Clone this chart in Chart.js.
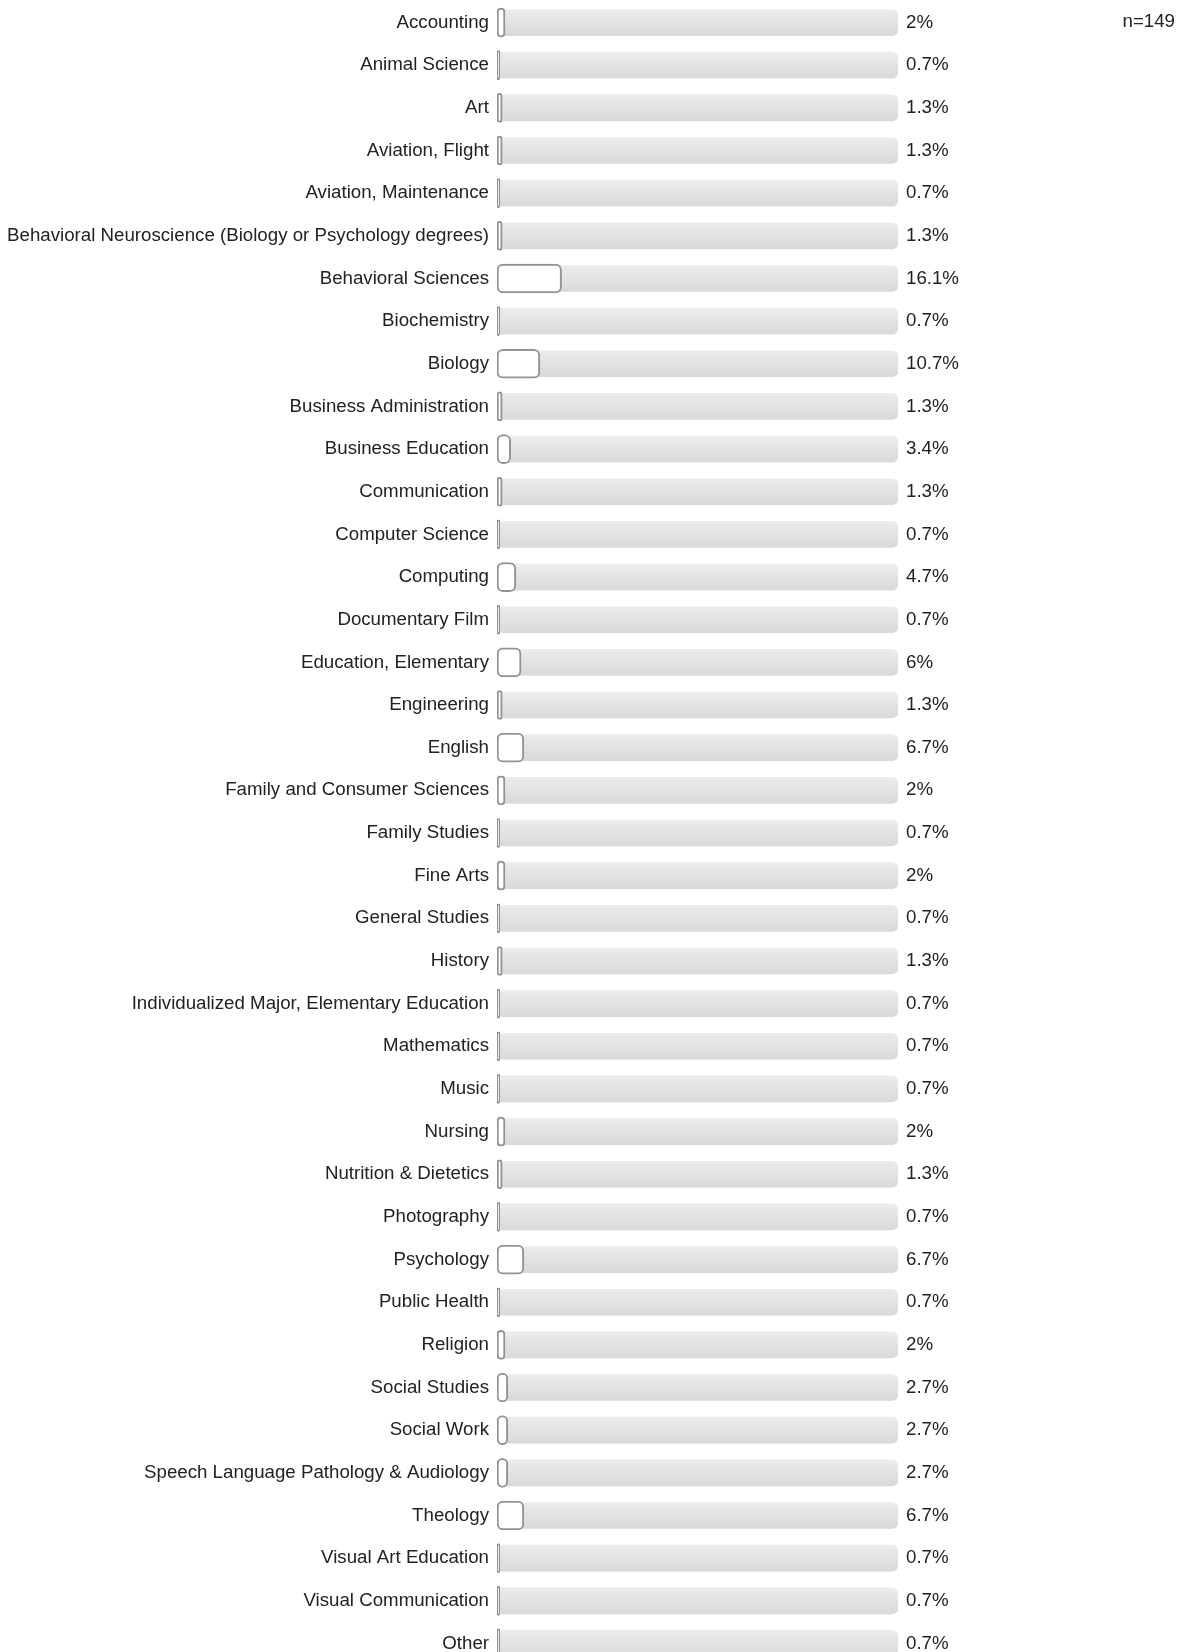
<!DOCTYPE html>
<html>
<head>
<meta charset="utf-8">
<script src="https://cdn.jsdelivr.net/npm/chart.js@4.4.1/dist/chart.umd.min.js"></script>
<style>
  html, body { margin: 0; padding: 0; background: #fff; overflow: hidden; }
  #wrap { position: relative; width: 1179px; height: 1702px; margin-top: -18px; }
  #count { position: absolute; right: 4px; top: 10px; font: 18.7px "Liberation Sans", Arial, sans-serif; color: #222; }
</style>
</head>
<body>
<div id="wrap">
  <canvas id="majorChart"></canvas>
</div>
<div id="count">n=149</div>
<script>
// answers per major, in percent of n=149
const majors = [
  'Accounting', 'Animal Science', 'Art', 'Aviation, Flight', 'Aviation, Maintenance',
  'Behavioral Neuroscience (Biology or Psychology degrees)', 'Behavioral Sciences',
  'Biochemistry', 'Biology', 'Business Administration', 'Business Education',
  'Communication', 'Computer Science', 'Computing', 'Documentary Film',
  'Education, Elementary', 'Engineering', 'English', 'Family and Consumer Sciences',
  'Family Studies', 'Fine Arts', 'General Studies', 'History',
  'Individualized Major, Elementary Education', 'Mathematics', 'Music', 'Nursing',
  'Nutrition & Dietetics', 'Photography', 'Psychology', 'Public Health', 'Religion',
  'Social Studies', 'Social Work', 'Speech Language Pathology & Audiology', 'Theology',
  'Visual Art Education', 'Visual Communication', 'Other'
]
const percents = [
  2, 0.7, 1.3, 1.3, 0.7,
  1.3, 16.1,
  0.7, 10.7, 1.3, 3.4,
  1.3, 0.7, 4.7, 0.7,
  6, 1.3, 6.7, 2,
  0.7, 2, 0.7, 1.3,
  0.7, 0.7, 0.7, 2,
  1.3, 0.7, 6.7, 0.7, 2,
  2.7, 2.7, 2.7, 6.7,
  0.7, 0.7, 0.7
]
const fullScale = majors.map(() => 100)
const pctLabels = percents.map(v => v + '%')

const labelFont = { family: '"Liberation Sans", Arial, sans-serif', size: 18.7 }

function trackColor(ctx) {
    const chart = ctx.chart
    const yScale = chart.scales.y
    if (!yScale || ctx.dataIndex === undefined) return '#e2e2e2'
    const y = yScale.getPixelForValue(ctx.dataIndex)
    if (!isFinite(y)) return '#e2e2e2'
    const g = chart.ctx.createLinearGradient(0, y - 13, 0, y + 13)
    g.addColorStop(0, '#ececec')
    g.addColorStop(1, '#d9d9d9')
    return g
}

new Chart(document.getElementById('majorChart'), {
    type: 'bar',
    data: {
        labels: majors,
        datasets: [{
            label: 'Percent',
            data: percents,
            backgroundColor: '#ffffff',
            borderColor: '#939393',
            borderWidth: 2,
            borderRadius: 6,
            borderSkipped: false,
            barThickness: 29,
            grouped: false
        }, {
            label: 'Track',
            data: fullScale,
            backgroundColor: trackColor,
            borderWidth: 0,
            borderRadius: 6,
            borderSkipped: false,
            barThickness: 26,
            grouped: false
        }]
    },
    options: {
        indexAxis: 'y',
        responsive: true,
        maintainAspectRatio: false,
        animation: false,
        layout: { padding: 0 },
        plugins: {
            legend: { display: false },
            tooltip: { enabled: false }
        },
        scales: {
            x: { display: false, min: 0, max: 100 },
            y: {
                position: 'left',
                grid: { display: false, drawTicks: false },
                border: { display: false },
                ticks: { font: labelFont, color: '#222', padding: 8, autoSkip: false },
                afterFit: scale => { scale.width = 497 }
            },
            y2: {
                type: 'category',
                position: 'right',
                labels: pctLabels,
                offset: true,
                grid: { display: false, drawTicks: false },
                border: { display: false },
                ticks: { font: labelFont, color: '#222', padding: 8, autoSkip: false },
                afterFit: scale => { scale.width = 281 }
            }
        }
    }
})
</script>
</body>
</html>
